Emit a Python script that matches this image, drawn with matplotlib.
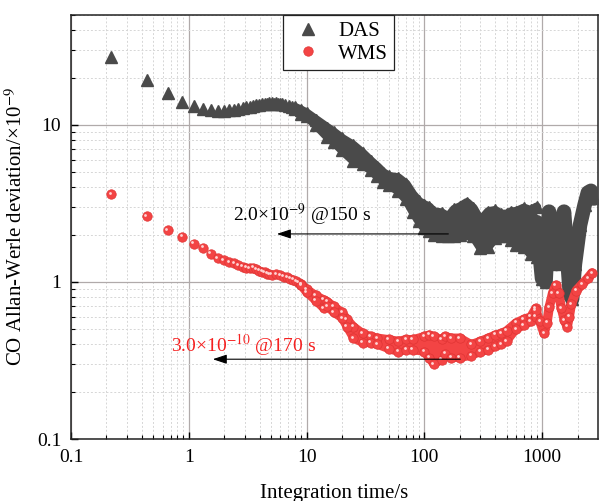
import matplotlib
matplotlib.use("Agg")
import matplotlib.pyplot as plt
from matplotlib.ticker import LogLocator, FixedLocator, NullFormatter, FuncFormatter
from matplotlib.transforms import offset_copy
from matplotlib.lines import Line2D

plt.rcParams['font.family'] = ['Liberation Serif', 'DejaVu Serif']
plt.rcParams['mathtext.fontset'] = 'stix'

# ---------------- data ----------------
# DAS: discrete early points
das_tau_a = [0.22, 0.44, 0.66, 0.88, 1.10, 1.32, 1.54, 1.76, 1.98, 2.20, 2.42, 2.64,
             2.86, 3.08, 3.30, 3.52, 3.74, 3.96, 4.18, 4.40, 4.62, 4.84, 5.06, 5.28,
             5.50, 5.72, 5.94, 6.16, 6.60, 7.04, 7.48, 7.92]
das_val_a = [27.1, 19.4, 16.0, 14.0, 13.2, 12.6, 12.4, 12.3, 12.3, 12.4, 12.5, 12.6,
             12.7, 12.9, 13.0, 13.2, 13.3, 13.4, 13.5, 13.6, 13.6, 13.7, 13.7, 13.6,
             13.7, 13.6, 13.5, 13.5, 13.3, 13.1, 12.9, 12.7]
# DAS: dense noisy band (upper / lower envelope)
das_tau_b = [8, 9, 10, 12, 15, 17, 20, 25, 30, 35, 40, 45, 50, 60, 70, 80, 90, 100,
             110, 120, 140, 160, 180, 200, 230, 260, 300, 350, 400, 450, 500, 550,
             600, 700, 800, 900]
das_hi = [12.9, 12.4, 11.9, 10.8, 9.6, 9.0, 8.2, 7.4, 6.6, 5.9, 5.4, 4.95, 4.7, 4.6,
          4.2, 3.6, 3.25, 3.1, 3.0, 2.8, 2.75, 2.6, 2.9, 3.0, 3.2, 2.95, 2.45, 2.8,
          2.85, 2.7, 2.7, 2.8, 2.8, 2.95, 2.85, 3.0]
das_lo = [12.6, 11.8, 11.3, 10.0, 8.4, 7.8, 6.9, 5.9, 5.6, 5.16, 4.7, 4.35, 4.15, 3.8,
          3.35, 2.8, 2.43, 2.2, 2.1, 2.0, 1.95, 1.95, 1.95, 2.0, 2.05, 1.95, 1.65,
          1.68, 1.9, 1.95, 1.95, 1.85, 1.72, 1.68, 1.5, 1.45]
# DAS: long-tau strokes
das_tau_c = [900, 1000, 1070, 1146, 1250, 1330, 1420, 1535, 1620, 1720, 1800, 1900,
             2100, 2300, 2450, 2600, 2750]
das_val_c = [2.4, 1.05, 1.0, 2.8, 2.0, 1.3, 1.8, 2.8, 1.6, 0.85, 0.78, 1.3, 2.3, 3.1,
             3.7, 3.8, 3.4]

# WMS: discrete early points
wms_tau_a = [0.22, 0.44, 0.66, 0.88, 1.10, 1.32, 1.54, 1.76, 1.98, 2.20, 2.42, 2.64,
             2.86, 3.08, 3.30, 3.52, 3.74, 3.96, 4.18, 4.40, 4.62, 4.84, 5.06, 5.50,
             5.94, 6.38, 6.82, 7.26, 7.70, 8.14, 8.58, 9.02]
wms_val_a = [3.63, 2.63, 2.14, 1.94, 1.75, 1.65, 1.51, 1.42, 1.37, 1.34, 1.31, 1.28,
             1.25, 1.23, 1.22, 1.23, 1.20, 1.18, 1.16, 1.15, 1.13, 1.12, 1.11, 1.12,
             1.10, 1.08, 1.07, 1.05, 1.03, 1.01, 0.99, 0.96]
# WMS: dense noisy band
wms_tau_b = [9, 10, 12, 14, 15, 17, 20, 22, 25, 30, 35, 40, 50, 60, 70, 80, 100, 110,
             120, 140, 150, 170, 200, 250, 300, 350, 400, 450, 500, 600, 700, 800, 880]
wms_hi = [0.97, 0.90, 0.82, 0.77, 0.75, 0.70, 0.64, 0.58, 0.52, 0.47, 0.45, 0.44, 0.43,
          0.42, 0.43, 0.43, 0.45, 0.46, 0.45, 0.43, 0.45, 0.44, 0.44, 0.40, 0.42, 0.44,
          0.46, 0.47, 0.49, 0.55, 0.58, 0.60, 0.68]
wms_lo = [0.95, 0.86, 0.76, 0.68, 0.70, 0.64, 0.59, 0.52, 0.44, 0.41, 0.41, 0.40, 0.375,
          0.36, 0.37, 0.37, 0.36, 0.33, 0.30, 0.32, 0.35, 0.33, 0.33, 0.34, 0.36, 0.37,
          0.39, 0.40, 0.42, 0.50, 0.53, 0.56, 0.60]
# WMS: long-tau strokes
wms_tau_c = [880, 960, 1040, 1100, 1150, 1230, 1310, 1380, 1460, 1550, 1635, 1700,
             1770, 1950, 2200, 2450, 2650]
wms_val_c = [0.66, 0.56, 0.47, 0.55, 0.69, 0.85, 0.95, 0.85, 0.68, 0.57, 0.52, 0.60,
             0.72, 0.88, 0.97, 1.06, 1.14]

# annotations
das_note = r'2.0×10$^{-9}$ @150 s'
wms_note = r'3.0×10$^{-10}$ @170 s'
x_ticks = [0.1, 1, 10, 100, 1000]
y_ticks = [0.1, 1, 10]

# ---------------- style ----------------
GRAY = '#4a4a4a'
RED = '#f34444'
RED_EDGE = '#e03434'
HL = '#ffd6d6'
RED_TXT = '#f52020'

fig = plt.figure(figsize=(5.99, 5.01), dpi=100)
ax = fig.add_axes([71/599, 1-439/501, (598-71)/599, (439-15)/501])
ax.set_xscale('log')
ax.set_yscale('log')
ax.set_xlim(0.1, 2985)
ax.set_ylim(0.1, 50)

line_kw = dict(solid_capstyle='round', solid_joinstyle='round')

# DAS
ax.fill_between(das_tau_b, das_lo, das_hi, color=GRAY, lw=0, zorder=3)
ax.plot(das_tau_b, das_hi, '-', color=GRAY, lw=6.5, zorder=3, **line_kw)
ax.plot(das_tau_b, das_lo, '-', color=GRAY, lw=6.5, zorder=3, **line_kw)
ax.plot(das_tau_c, das_val_c, '-', color=GRAY, lw=10.5, zorder=3, **line_kw)
for xs, ys in [(das_tau_a, das_val_a), (das_tau_b, das_hi), (das_tau_b, das_lo),
               (das_tau_c, das_val_c)]:
    ax.plot(xs, ys, '^', ms=8, color=GRAY, mec=GRAY, ls='none', zorder=3)

# WMS
ax.fill_between(wms_tau_b, wms_lo, wms_hi, color=RED, lw=0, zorder=4)
ax.plot(wms_tau_b, wms_hi, '-', color=RED, lw=6.3, zorder=4, **line_kw)
ax.plot(wms_tau_b, wms_lo, '-', color=RED, lw=6.3, zorder=4, **line_kw)
ax.plot(wms_tau_c, wms_val_c, '-', color=RED, lw=6.8, zorder=4, **line_kw)
hl_tr = offset_copy(ax.transData, fig=fig, x=-1.0, y=1.0, units='points')
for xs, ys in [(wms_tau_a, wms_val_a), (wms_tau_b, wms_hi), (wms_tau_b, wms_lo),
               (wms_tau_c, wms_val_c)]:
    ax.plot(xs, ys, 'o', ms=6.8, mfc=RED, mec=RED_EDGE, mew=0.5, ls='none', zorder=4)
    ax.plot(xs, ys, 'o', ms=2.0, mfc=HL, mec='none', ls='none', zorder=4.1,
            transform=hl_tr)

# annotations
arrow_kw = dict(arrowstyle='-|>,head_length=0.6,head_width=0.2', color='black',
                lw=0.8, mutation_scale=14, shrinkA=0, shrinkB=0)
ax.annotate('', xy=(5.6, 2.02), xytext=(160, 2.02), arrowprops=arrow_kw, zorder=6)
ax.annotate('', xy=(1.6, 0.322), xytext=(202, 0.322), arrowprops=arrow_kw, zorder=6)
ax.text(2.36, 2.67, das_note, fontsize=14, ha='left', va='center', zorder=7)
ax.text(0.70, 0.397, wms_note, fontsize=14, ha='left', va='center', color=RED_TXT,
        zorder=7)

# ticks and grid
fmt = FuncFormatter(lambda v, p: ('%g' % v))
ax.xaxis.set_major_locator(FixedLocator(x_ticks))
ax.yaxis.set_major_locator(FixedLocator(y_ticks))
ax.xaxis.set_major_formatter(fmt)
ax.yaxis.set_major_formatter(fmt)
ax.xaxis.set_minor_locator(LogLocator(base=10, subs=range(2, 10), numticks=20))
ax.yaxis.set_minor_locator(LogLocator(base=10, subs=range(2, 10), numticks=20))
ax.xaxis.set_minor_formatter(NullFormatter())
ax.yaxis.set_minor_formatter(NullFormatter())
ax.tick_params(which='both', direction='in', top=False, right=False,
               labelsize=14, colors='black')
ax.tick_params(which='major', length=5, width=1.0, pad=7)
ax.tick_params(which='minor', length=3, width=0.8)
ax.grid(which='major', color='#b0aaaa', lw=0.9, ls='-', zorder=0)
ax.grid(which='minor', color='#d6d6d6', lw=0.7, ls=(0, (2, 2)), zorder=0)
ax.set_axisbelow(True)
for s in ax.spines.values():
    s.set_linewidth(1.1)
    s.set_color('#222222')

ax.set_xlabel('Integration time/s', fontsize=15)
ax.set_ylabel(r'CO Allan-Werle deviation/×10$^{-9}$', fontsize=15)
ax.xaxis.set_label_coords(0.5, -0.105)
ax.yaxis.set_label_coords(-0.083, 0.5)

# legend
h_das = Line2D([], [], marker='^', ms=8, color=GRAY, ls='none')
h_wms = Line2D([], [], marker='o', ms=6.8, mfc=RED, mec=RED_EDGE, mew=0.5, ls='none')
leg = ax.legend([h_das, h_wms], ['DAS', 'WMS'], loc='upper left',
                bbox_to_anchor=(0.402, 1.0), borderaxespad=0, fontsize=15,
                frameon=True, fancybox=False, edgecolor='#222222', framealpha=1,
                handlelength=1.8, handletextpad=0.55, labelspacing=0.15,
                borderpad=0.3)
leg.get_frame().set_linewidth(0.9)
leg.set_zorder(10)

fig.savefig('out.png', dpi=100)
